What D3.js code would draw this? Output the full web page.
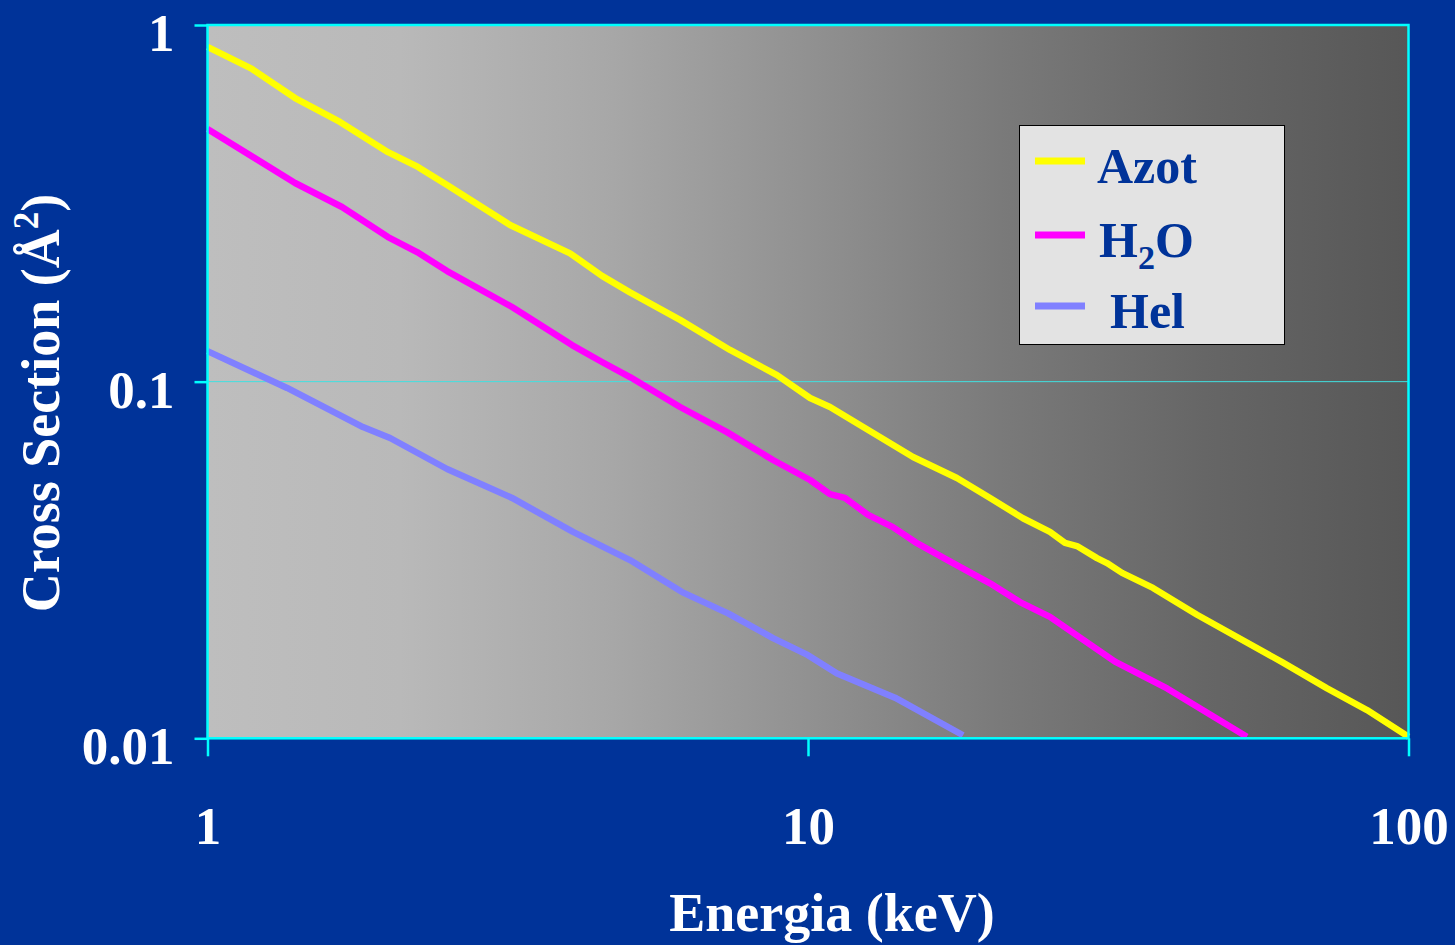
<!DOCTYPE html>
<html>
<head>
<meta charset="utf-8">
<script src="https://cdn.jsdelivr.net/npm/d3@7"></script>
<style>
  html, body { margin: 0; padding: 0; background: #003399; }
  svg { display: block; }
  text { font-family: "Liberation Serif", "Times New Roman", serif; font-weight: bold; }
</style>
</head>
<body>
<svg id="chart" width="1455" height="945"></svg>
<script>
// Cross section vs. energy for three targets (log-log)
const seriesNames = ["Azot", "H2O", "Hel"];
const seriesColors = ["#ffff00", "#ff00ff", "#8080ff"];

// Energy (keV) and cross section (Å²) for nitrogen
const azotEnergy = [1.00, 1.186, 1.399, 1.662, 1.998, 2.241, 2.506, 3.19, 4.016, 4.539, 5.053, 6.123, 7.415, 8.88, 10.08, 10.88, 14.96, 17.70, 20.10, 22.80, 25.29, 26.79, 28.05, 30.29, 31.47, 33.34, 37.54, 44.45, 61.8, 73.2, 85.3, 100];
const azotSigma  = [0.868, 0.753, 0.624, 0.535, 0.440, 0.400, 0.356, 0.275, 0.229, 0.198, 0.178, 0.149, 0.1227, 0.1043, 0.0900, 0.0849, 0.0615, 0.0537, 0.0472, 0.0414, 0.0379, 0.0353, 0.0346, 0.0320, 0.0310, 0.0291, 0.0264, 0.0222, 0.0163, 0.0138, 0.0120, 0.0101];

// Water
const h2oEnergy = [1.00, 1.399, 1.675, 1.998, 2.234, 2.506, 3.215, 4.046, 4.539, 5.053, 6.123, 7.331, 8.744, 10.08, 10.88, 11.52, 12.59, 13.85, 15.08, 17.44, 20.10, 22.54, 25.29, 32.45, 39.63, 53.8];
const h2oSigma  = [0.511, 0.3606, 0.3088, 0.2543, 0.2309, 0.2042, 0.1619, 0.1266, 0.1135, 0.1030, 0.0849, 0.0722, 0.0603, 0.0530, 0.0484, 0.0472, 0.0423, 0.0391, 0.0355, 0.0310, 0.0272, 0.0241, 0.0219, 0.0164, 0.0138, 0.0101];

// Helium
const helEnergy = [1.00, 1.357, 1.815, 2.014, 2.506, 3.215, 4.062, 5.053, 6.171, 7.360, 8.744, 10.0, 11.18, 13.96, 18.12];
const helSigma  = [0.1218, 0.0960, 0.0746, 0.0695, 0.0569, 0.0472, 0.0379, 0.0316, 0.0257, 0.0224, 0.0191, 0.0171, 0.0152, 0.0130, 0.0102];

const xTicks = [1, 10, 100];
const yTicks = [0.01, 0.1, 1];
const yTickLabels = ["0.01", "0.1", "1"];
const xTickLabels = ["1", "10", "100"];

const seriesData = [
  azotEnergy.map((e, i) => ({ e, s: azotSigma[i] })),
  h2oEnergy.map((e, i) => ({ e, s: h2oSigma[i] })),
  helEnergy.map((e, i) => ({ e, s: helSigma[i] }))
];

const svg = d3.select("#chart");
const plot = { left: 207.5, right: 1408.5, top: 25, bottom: 738.3 };

const x = d3.scaleLog().domain([1, 100]).range([plot.left, plot.right]);
const y = d3.scaleLog().domain([0.01, 1]).range([plot.bottom, plot.top]);

// Grey horizontal shading of the plot area
const defs = svg.append("defs");
const grad = defs.append("linearGradient").attr("id", "plotShade")
  .attr("x1", "0%").attr("x2", "100%").attr("y1", "0%").attr("y2", "0%");
[[0, "#bebebe"], [0.16, "#b9b9b9"], [0.33, "#a8a8a8"], [0.5, "#919191"],
 [0.66, "#7a7a7a"], [0.83, "#666666"], [1, "#575757"]]
  .forEach(([o, c]) => grad.append("stop").attr("offset", o).attr("stop-color", c));

svg.append("rect")
  .attr("x", plot.left).attr("y", plot.top)
  .attr("width", plot.right - plot.left).attr("height", plot.bottom - plot.top)
  .attr("fill", "url(#plotShade)");

// Gridline at 0.1
svg.append("line")
  .attr("x1", plot.left).attr("x2", plot.right)
  .attr("y1", y(0.1)).attr("y2", y(0.1))
  .attr("stroke", "#40e0e0").attr("stroke-width", 1);

// Axes
const yAxis = d3.axisLeft(y).tickValues(yTicks)
  .tickFormat((d, i) => yTickLabels[i]).tickSize(13).tickPadding(20);
const xAxis = d3.axisBottom(x).tickValues(xTicks)
  .tickFormat((d, i) => xTickLabels[i]).tickSize(18).tickPadding(50);

const gy = svg.append("g").attr("transform", `translate(${plot.left},0)`).call(yAxis);
const gx = svg.append("g").attr("transform", `translate(0,${plot.bottom})`).call(xAxis);

[gx, gy].forEach(g => {
  g.select(".domain").remove();
  g.selectAll(".tick line").attr("stroke", "#00ffff").attr("stroke-width", 2.5);
  g.selectAll(".tick text").attr("fill", "#ffffff").attr("font-size", 53)
    .attr("font-family", "Liberation Serif").attr("font-weight", "bold");
});
gy.selectAll(".tick text").attr("dy", "0.48em");

// Series lines
const line = d3.line().x(d => x(d.e)).y(d => y(d.s));
seriesData.forEach((data, i) => {
  svg.append("path").datum(data)
    .attr("d", line)
    .attr("fill", "none")
    .attr("stroke", seriesColors[i])
    .attr("stroke-width", 6.5)
    .attr("stroke-linejoin", "round");
});

// Plot frame
svg.append("rect")
  .attr("x", plot.left).attr("y", plot.top)
  .attr("width", plot.right - plot.left).attr("height", plot.bottom - plot.top)
  .attr("fill", "none").attr("stroke", "#00ffff").attr("stroke-width", 2.5);

// Axis titles
svg.append("text")
  .attr("x", 832).attr("y", 931)
  .attr("text-anchor", "middle").attr("fill", "#ffffff").attr("font-size", 54)
  .text("Energia (keV)");

const yt = svg.append("text")
  .attr("transform", "translate(59,403) rotate(-90)")
  .attr("text-anchor", "middle").attr("fill", "#ffffff").attr("font-size", 54);
yt.append("tspan").text("Cross Section (Å");
yt.append("tspan").attr("font-size", 35).attr("dy", -21).text("2");
yt.append("tspan").attr("dy", 21).text(")");

// Legend
const legend = svg.append("g");
legend.append("rect")
  .attr("x", 1019.5).attr("y", 125.5).attr("width", 265).attr("height", 219)
  .attr("fill", "#e3e3e3").attr("stroke", "#000000").attr("stroke-width", 1);

const legendRows = [161, 235, 306];
const legendBase = [183, 257, 328];
seriesNames.forEach((name, i) => {
  legend.append("line")
    .attr("x1", 1035).attr("x2", 1085)
    .attr("y1", legendRows[i]).attr("y2", legendRows[i])
    .attr("stroke", seriesColors[i]).attr("stroke-width", 7);
  const t = legend.append("text")
    .attr("y", legendBase[i]).attr("fill", "#003399").attr("font-size", 50);
  if (name === "H2O") {
    t.attr("x", 1099);
    t.append("tspan").text("H");
    t.append("tspan").attr("font-size", 34).attr("dy", 12).text("2");
    t.append("tspan").attr("dy", -12).text("O");
  } else if (name === "Hel") {
    t.attr("x", 1110).text("Hel");
  } else {
    t.attr("x", 1097).text(name);
  }
});
</script>
</body>
</html>
